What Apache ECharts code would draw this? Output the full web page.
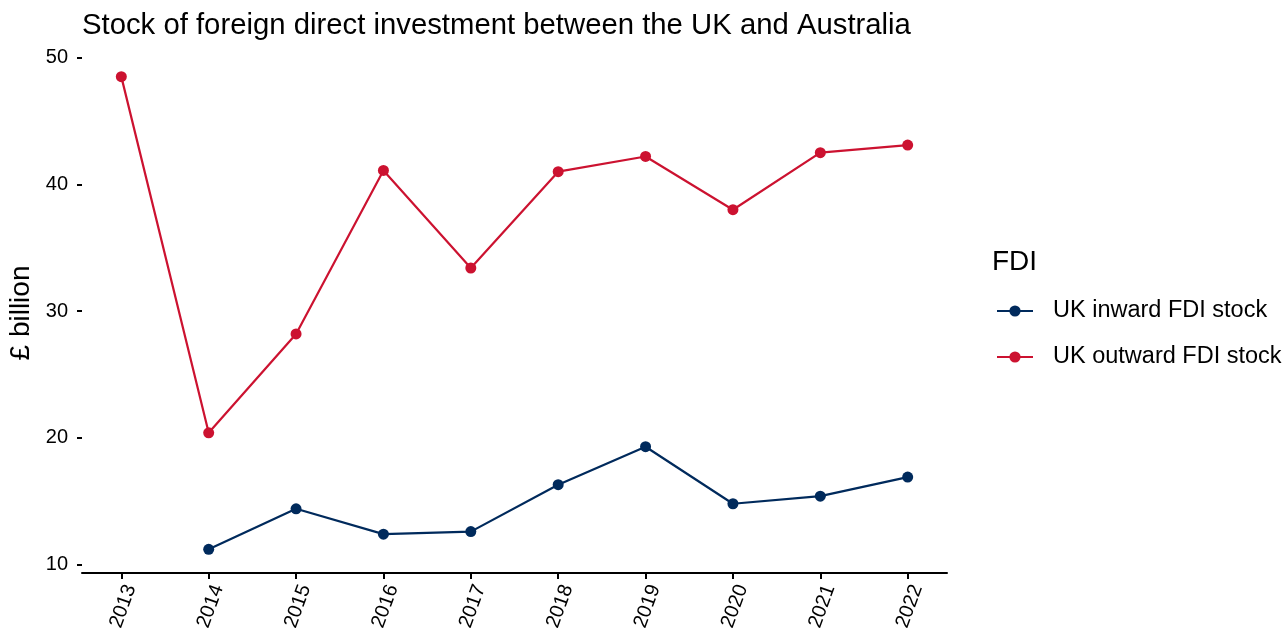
<!DOCTYPE html>
<html><head><meta charset="utf-8">
<script src="https://cdn.jsdelivr.net/npm/echarts@6/dist/echarts.min.js"></script>
<style>html,body{margin:0;padding:0;background:#fff}#c{width:1285px;height:632px}</style>
</head><body><div id="c"></div>
<script>
const years = [2013, 2014, 2015, 2016, 2017, 2018, 2019, 2020, 2021, 2022];
const inward = [null, 11.2, 14.4, 12.4, 12.6, 16.3, 19.3, 14.8, 15.4, 16.9];
const outward = [48.5, 20.4, 28.2, 41.1, 33.4, 41.0, 42.2, 38.0, 42.5, 43.1];
const yTicks = [10, 20, 30, 40, 50];
const seriesNames = ['UK inward FDI stock', 'UK outward FDI stock'];
const colors = ['#002a5c', '#cc1230'];

const font = 'Liberation Sans, Arial, sans-serif';
const chart = echarts.init(document.getElementById('c'), null, {renderer: 'canvas'});
const toPairs = arr => years.map((y, i) => [y, arr[i]]);
chart.setOption({
  animation: false,
  backgroundColor: '#fff',
  title: {
    text: 'Stock of foreign direct investment between the UK and Australia',
    left: 77, top: 6,
    textStyle: {fontFamily: font, fontSize: 29.3, fontWeight: 'normal', color: '#000'}
  },
  graphic: [{
    type: 'text', left: 992, top: 248,
    style: {text: 'FDI', fontFamily: font, fontSize: 28, fill: '#000'}
  }],
  legend: {
    orient: 'vertical', left: 991, top: 294,
    itemWidth: 36, itemHeight: 14, itemGap: 22,
    textStyle: {fontFamily: font, fontSize: 23.5, color: '#000', padding: [0, 0, 0, 15]},
    data: seriesNames
  },
  grid: {left: 82, right: 338, top: 53, bottom: 59, containLabel: false, outerBoundsMode: 'none'},
  xAxis: {
    type: 'value', min: 2012.55, max: 2022.45,
    axisLine: {show: true, lineStyle: {color: '#000', width: 2}},
    axisTick: {show: true, customValues: years, length: 6, lineStyle: {color: '#000', width: 2}},
    axisLabel: {customValues: years, rotate: 70, margin: 9, verticalAlign: 'top', fontFamily: font, fontSize: 20, color: '#000',
      formatter: v => String(v)},
    splitLine: {show: false}
  },
  yAxis: {
    type: 'value', min: 9.335, max: 50.365,
    name: '£ billion', nameLocation: 'middle', nameGap: 44, nameRotate: 90,
    nameTextStyle: {fontFamily: font, fontSize: 28, color: '#000'},
    axisLine: {show: false},
    axisTick: {show: true, customValues: yTicks, length: 5, lineStyle: {color: '#000', width: 2}},
    axisLabel: {customValues: yTicks, margin: 14, fontFamily: font, fontSize: 20, color: '#000'},
    splitLine: {show: false}
  },
  series: [
    {name: seriesNames[0], type: 'line', data: toPairs(inward), color: colors[0],
     symbol: 'circle', symbolSize: 11, lineStyle: {width: 2.2}, connectNulls: false},
    {name: seriesNames[1], type: 'line', data: toPairs(outward), color: colors[1],
     symbol: 'circle', symbolSize: 11, lineStyle: {width: 2.2}}
  ]
});
</script></body></html>
